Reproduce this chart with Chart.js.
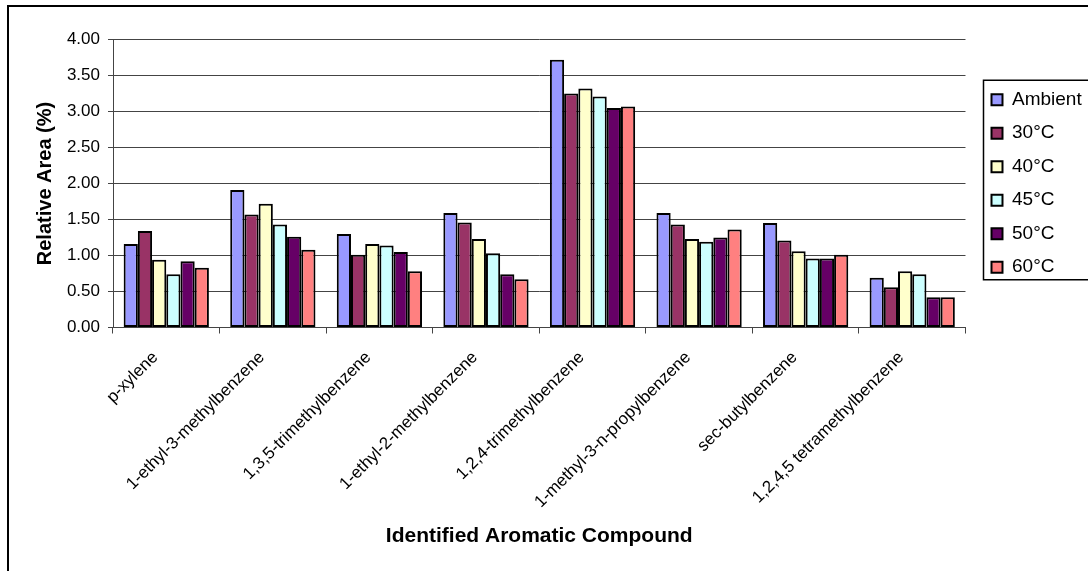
<!DOCTYPE html>
<html>
<head>
<meta charset="utf-8">
<script src="https://cdn.jsdelivr.net/npm/chart.js@4/dist/chart.umd.min.js"></script>
<style>
  body { margin: 0; background: #fff; overflow: hidden; }
  #frame { position: absolute; left: 7px; top: 5px; width: 1200px; height: 700px; border: 2px solid #000; }
  #myChart { position: absolute; left: 0; top: 0; }
</style>
</head>
<body>
<div id="frame"></div>
<canvas id="myChart" width="1100" height="571"></canvas>
<script>
const compounds = [
  'p-xylene', '1-ethyl-3-methylbenzene', '1,3,5-trimethylbenzene', '1-ethyl-2-methylbenzene',
  '1,2,4-trimethylbenzene', '1-methyl-3-n-propylbenzene', 'sec-butylbenzene', '1,2,4,5 tetramethylbenzene'
];
const seriesNames = ['Ambient', '30°C', '40°C', '45°C', '50°C', '60°C'];
const ambient = [1.16, 1.91, 1.30, 1.59, 3.72, 1.59, 1.45, 0.69];
const temp30 = [1.34, 1.57, 1.01, 1.46, 3.25, 1.43, 1.21, 0.56];
const temp40 = [0.94, 1.72, 1.16, 1.23, 3.32, 1.23, 1.06, 0.78];
const temp45 = [0.74, 1.43, 1.14, 1.03, 3.21, 1.19, 0.96, 0.74];
const temp50 = [0.92, 1.26, 1.05, 0.74, 3.05, 1.25, 0.96, 0.42];
const temp60 = [0.83, 1.08, 0.78, 0.67, 3.07, 1.36, 1.01, 0.42];
const yTicks = [0, 0.5, 1, 1.5, 2, 2.5, 3, 3.5, 4];

const colors = ['#9999FF', '#993366', '#FFFFCC', '#CCFFFF', '#660066', '#FF8080'];
const allValues = [ambient, temp30, temp40, temp45, temp50, temp60];

const font = '"Liberation Sans", Arial, sans-serif';

// box round the legend, like the excel one
const legendBox = {
  id: 'legendBox',
  afterDraw(chart) {
    const hb = chart.legend.legendHitBoxes;
    if (!hb || !hb.length) return;
    const last = hb[hb.length - 1];
    const ctx = chart.ctx;
    ctx.save();
    ctx.strokeStyle = '#000';
    ctx.lineWidth = 1.5;
    const top = hb[0].top - 10;
    ctx.strokeRect(hb[0].left - 8, top, 200, last.top + last.height + 3 - top);
    ctx.restore();
  }
};

const ctx = document.getElementById('myChart').getContext('2d');
const myChart = new Chart(ctx, {
  type: 'bar',
  data: {
    labels: compounds,
    datasets: seriesNames.map((name, i) => ({
      label: name,
      data: allValues[i],
      backgroundColor: colors[i],
      borderColor: '#000',
      borderWidth: 2,
      borderSkipped: false,
      categoryPercentage: 0.8,
      barPercentage: 1.0
    }))
  },
  options: {
    responsive: false,
    animation: false,
    devicePixelRatio: 1,
    layout: { padding: { top: 39.5, right: 8.3, bottom: 8, left: 0 } },
    scales: {
      x: {
        grid: { display: true, drawOnChartArea: false, color: '#444', tickLength: 6, offset: true },
        border: { color: '#444', width: 1 },
        ticks: {
          color: '#000', font: { family: font, size: 17 },
          minRotation: 45, maxRotation: 45, autoSkip: false, padding: 14, labelOffset: -11
        },
        title: {
          display: true, text: 'Identified Aromatic Compound', color: '#000',
          font: { family: font, size: 21, weight: 'bold' }, padding: { top: 4, bottom: 14 }
        },
        afterFit: s => { s.height = 571 - 8 - 327.5; }
      },
      y: {
        min: 0, max: 4,
        grid: { color: '#444', tickLength: 5 },
        border: { color: '#444', width: 1 },
        afterBuildTicks: s => { s.ticks = yTicks.map(v => ({ value: v })); },
        ticks: {
          color: '#000', font: { family: font, size: 17 }, padding: 8,
          callback: v => Number(v).toFixed(2)
        },
        title: {
          display: true, text: 'Relative Area (%)', color: '#000',
          font: { family: font, size: 20, weight: 'bold' }, padding: { top: 33, bottom: 0 }
        },
        afterFit: s => { s.width = 113; }
      },
      gap: {
        type: 'linear', position: 'right', display: true,
        grid: { display: false }, border: { display: false }, ticks: { display: false },
        afterFit: s => { s.width = 11.5; }
      }
    },
    plugins: {
      legend: {
        position: 'right',
        fullSize: false,
        labels: {
          color: '#000', font: { family: font, size: 19 },
          boxWidth: 11, boxHeight: 11, padding: 14.5
        }
      },
      tooltip: { enabled: false }
    }
  },
  plugins: [legendBox]
});
</script>
</body>
</html>
